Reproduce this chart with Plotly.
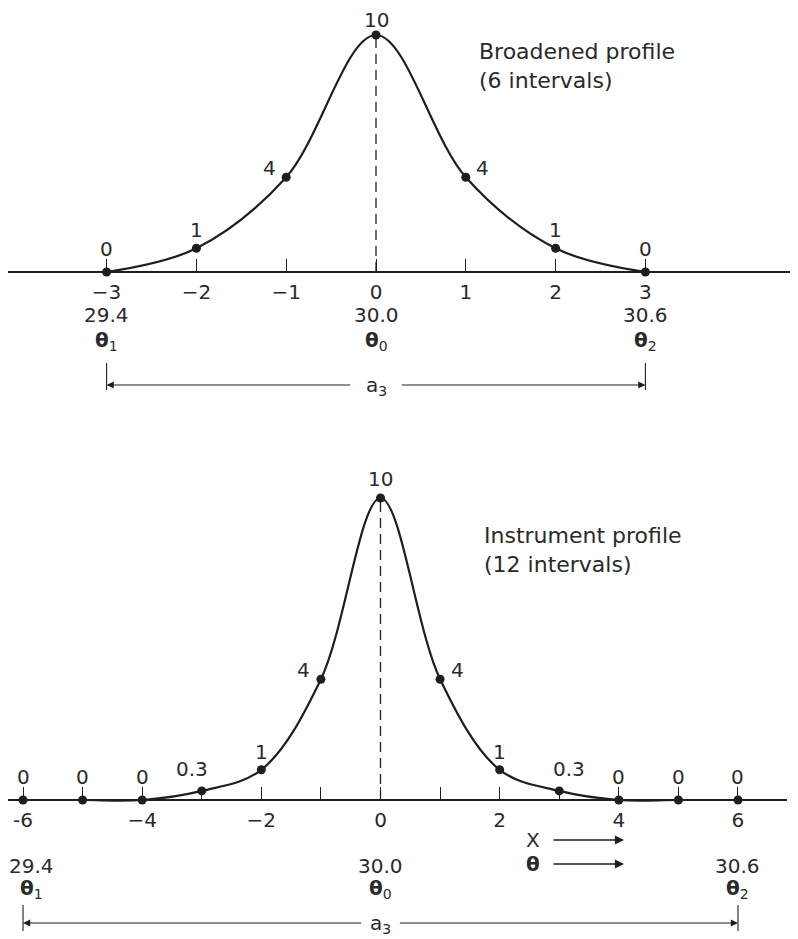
import plotly.graph_objects as go

# ---------------- data ----------------
top_x = [-3, -2, -1, 0, 1, 2, 3]
top_y = [0, 1, 4, 10, 4, 1, 0]
top_labels = ["0", "1", "4", "10", "4", "1", "0"]

bot_x = [-6, -5, -4, -3, -2, -1, 0, 1, 2, 3, 4, 5, 6]
bot_y = [0, 0, 0, 0.3, 1, 4, 10, 4, 1, 0.3, 0, 0, 0]
bot_labels = ["0", "0", "0", "0.3", "1", "4", "10", "4", "1", "0.3", "0", "0", "0"]

top_tick_vals = [-3, -2, -1, 0, 1, 2, 3]
top_tick_text = ["\u22123", "\u22122", "\u22121", "0", "1", "2", "3"]
bot_tick_vals = [-6, -5, -4, -3, -2, -1, 0, 1, 2, 3, 4, 5, 6]
bot_tick_text = ["-6", "", "\u22124", "", "\u22122", "", "0", "", "2", "", "4", "", "6"]

theta_values = ["29.4", "30.0", "30.6"]
theta_names = ["<b>\u03b8</b><sub>1</sub>", "<b>\u03b8</b><sub>0</sub>", "<b>\u03b8</b><sub>2</sub>"]
top_theta_x = [-3, 0, 3]
bot_theta_x = [-6, 0, 6]

top_title = "Broadened profile<br>(6 intervals)"
bot_title = "Instrument profile<br>(12 intervals)"

# ---------------- layout geometry ----------------
OFF = 8                      # page body margin around the plot div
PAGE_W, PAGE_H = 798, 939
W, H = PAGE_W - OFF, PAGE_H - OFF
FONT = "DejaVu Sans"
INK = "#1e1e1e"
TXT = "#2a2a2a"
NUM = 20
TITLE = 22

# top panel (page coordinates): rows 0..420, axis at 272, 23.7 px per unit
top_split = 420 - OFF
top_axis = 272 - OFF
top_sy = 23.7
top_yr = [-(top_split - top_axis) / top_sy, top_axis / top_sy]
top_dom = [1 - top_split / H, 1.0]
top_sx, top_cx = 89.8, 376 - OFF
top_xr = [-top_cx / top_sx, (W - top_cx) / top_sx]

# bottom panel: rows 430..939, axis at 800, 30.2 px per unit
bot_split = 430 - OFF
bot_axis = 800 - OFF
bot_sy = 30.2
bot_yr = [-(H - bot_axis) / bot_sy, (bot_axis - bot_split) / bot_sy]
bot_dom = [0.0, 1 - bot_split / H]
bot_sx, bot_cx = 59.58, 380.5 - OFF
bot_right = 787 - OFF
bot_xr = [-bot_cx / bot_sx, (bot_right - bot_cx) / bot_sx]


def axis_pos(dom, yr):
    return dom[0] + (0 - yr[0]) / (yr[1] - yr[0]) * (dom[1] - dom[0])


fig = go.Figure()
annotations = []
shapes = []


def add_panel(xs, ys, labels, xa, ya, peak_dy):
    fig.add_trace(go.Scatter(
        x=xs, y=ys, mode="lines+markers", line=dict(color=INK, width=2.2, shape="spline"),
        marker=dict(color=INK, size=9), xaxis=xa, yaxis=ya, showlegend=False, hoverinfo="skip"))
    peak = max(ys)
    px = xs[ys.index(peak)]
    fig.add_trace(go.Scatter(
        x=[px, px], y=[0, peak], mode="lines", line=dict(color=INK, width=1.3, dash="10px,6px"),
        xaxis=xa, yaxis=ya, showlegend=False, hoverinfo="skip"))
    for x, y, t in zip(xs, ys, labels):
        sgn = (x > 0) - (x < 0)
        if y == 0:
            dx, dy = 0, 23
        elif x == 0:
            dx, dy = 0, peak_dy
        elif y < 0.5:
            dx, dy = sgn * 10, 22
        elif y < 2:
            dx, dy = 0, 18
        else:
            dx, dy = sgn * 17, 9
        annotations.append(dict(x=x, y=y, xref=xa, yref=ya, text=t, showarrow=False,
                                xshift=dx, yshift=dy, font=dict(size=NUM, color=TXT, family=FONT)))


def add_theta(xs, xa, ya, val_dy, name_dy, arrow_dy, mark_top, mark_bot, gap, left_dx=0):
    for i, (x, v, n) in enumerate(zip(xs, theta_values, theta_names)):
        dx = left_dx if i == 0 else 0
        annotations.append(dict(x=x, y=0, xref=xa, yref=ya, text=v, showarrow=False,
                                xshift=dx, yshift=-val_dy, font=dict(size=NUM, color=TXT, family=FONT)))
        annotations.append(dict(x=x, y=0, xref=xa, yref=ya, text=n, showarrow=False,
                                xshift=dx, yshift=-name_dy, font=dict(size=NUM, color=TXT, family=FONT)))
    left, mid, right = xs[0], xs[1], xs[2]
    for end, tail in ((left, mid - gap), (right, mid + gap)):
        annotations.append(dict(x=end, y=0, xref=xa, yref=ya, text="", showarrow=True,
                                axref=xa, ax=tail, ayref="pixel", ay=0, yshift=-arrow_dy,
                                arrowhead=2, arrowsize=1.3, arrowwidth=1.1, arrowcolor=INK,
                                standoff=0, startstandoff=0))
        shapes.append(dict(type="line", xref=xa, yref=ya, x0=end, x1=end,
                           ysizemode="pixel", yanchor=0, y0=-mark_top, y1=-mark_bot,
                           line=dict(color=INK, width=1.1)))
    annotations.append(dict(x=mid, y=0, xref=xa, yref=ya, text="a<sub>3</sub>", showarrow=False,
                            yshift=-arrow_dy - 1, font=dict(size=NUM, color=TXT, family=FONT)))


add_panel(top_x, top_y, top_labels, "x", "y", 15)
add_panel(bot_x, bot_y, bot_labels, "x2", "y2", 19)

add_theta(top_theta_x, "x", "y", 43, 69, 113, 91, 118, 0.27)
add_theta(bot_theta_x, "x2", "y2", 66, 89, 123, 105, 131, 0.3, left_dx=8)

# profile titles (positions given in page pixels, converted to data units)
annotations.append(dict(x=(477 - 376) / top_sx, y=(272 - 66) / top_sy, xref="x", yref="y",
                        text=top_title, showarrow=False, xanchor="left", yanchor="middle", align="left",
                        font=dict(size=TITLE, color=TXT, family=FONT)))
annotations.append(dict(x=(482 - 380.5) / bot_sx, y=(800 - 550) / bot_sy, xref="x2", yref="y2",
                        text=bot_title, showarrow=False, xanchor="left", yanchor="middle", align="left",
                        font=dict(size=TITLE, color=TXT, family=FONT)))

# X and theta direction arrows in the bottom panel
for lab, dy in (("X", 40), ("<b>\u03b8</b>", 64)):
    annotations.append(dict(x=(533 - 380.5) / bot_sx, y=0, xref="x2", yref="y2", text=lab,
                            showarrow=False, yshift=-dy, font=dict(size=NUM, color=TXT, family=FONT)))
    annotations.append(dict(x=(624 - 380.5) / bot_sx, y=0, xref="x2", yref="y2", text="",
                            showarrow=True, axref="x2", ax=(552 - 380.5) / bot_sx, ayref="pixel", ay=0,
                            yshift=-dy, arrowhead=2, arrowsize=1.3, arrowwidth=1.4, arrowcolor=INK,
                            standoff=0, startstandoff=0))

common_x = dict(showgrid=False, zeroline=False, showline=True, linecolor=INK, linewidth=1.6,
                ticks="inside", ticklen=12, tickwidth=1.3, tickcolor=INK, anchor="free", side="bottom",
                ticklabelstandoff=2,
                tickfont=dict(size=NUM, color=TXT, family=FONT), fixedrange=True)
common_y = dict(showgrid=False, zeroline=False, showline=False, showticklabels=False, ticks="",
                fixedrange=True)

fig.update_layout(
    width=W, height=H, autosize=False,
    margin=dict(l=0, r=0, t=0, b=0, pad=0),
    paper_bgcolor="white", plot_bgcolor="white",
    font=dict(family=FONT, color=TXT),
    xaxis=dict(domain=[0, 1], range=top_xr, tickvals=top_tick_vals, ticktext=top_tick_text,
               position=axis_pos(top_dom, top_yr), **common_x),
    yaxis=dict(domain=top_dom, range=top_yr, **common_y),
    xaxis2=dict(domain=[0, bot_right / W], range=bot_xr, tickvals=bot_tick_vals, ticktext=bot_tick_text,
                position=axis_pos(bot_dom, bot_yr), **common_x),
    yaxis2=dict(domain=bot_dom, range=bot_yr, **common_y),
    annotations=annotations,
    shapes=shapes,
)

fig.write_html("out.html")
